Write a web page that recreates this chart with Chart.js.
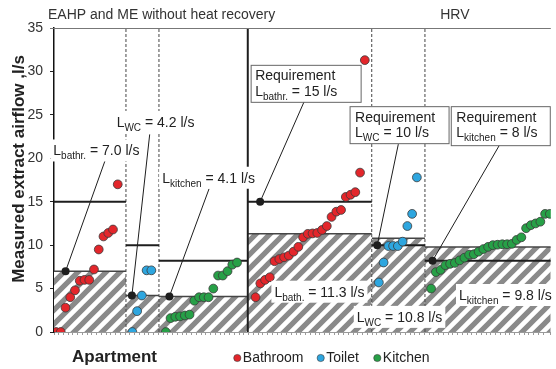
<!DOCTYPE html>
<html>
<head>
<meta charset="utf-8">
<script src="https://cdn.jsdelivr.net/npm/chart.js@4.4.0/dist/chart.umd.min.js"></script>
<style>
  html, body { margin: 0; padding: 0; background: #fff; }
</style>
</head>
<body>
<canvas id="airflowChart" width="556" height="369"></canvas>
<script>
// measured extract airflow (l/s), apartments sorted from lowest to highest
const bathEahp = [0, 0, 2.8, 4.0, 4.8, 5.9, 6.0, 6.0, 7.2, 9.5, 11.0, 11.4, 11.8, 17.0];
const toiletEahp = [0, 2.4, 4.2, 7.1, 7.1];
const kitchenEahp = [0, 1.6, 1.75, 1.8, 1.9, 2.0, 3.6, 4.0, 4.0, 4.0, 5.0, 6.5, 6.5, 7.0, 7.75, 8.0];
const bathHrv = [4.0, 5.6, 6.0, 6.3, 8.15, 8.4, 8.6, 8.8, 9.25, 9.8, 10.9, 11.3, 11.35, 11.4, 11.75,
  12.2, 13.25, 13.85, 14.05, 15.55, 15.8, 16.1, 18.35, 31.3];
const toiletHrv = [5.7, 8.0, 9.9, 9.9, 9.9, 10.4, 12.2, 13.6, 17.8];
const kitchenHrv = [5.0, 6.9, 7.15, 7.7, 7.85, 7.95, 8.25, 8.55, 8.9, 8.95, 9.25, 9.55, 9.8, 10.0, 10.05,
  10.1, 10.1, 10.15, 10.6, 10.9, 11.95, 12.3, 12.5, 12.7, 13.6, 13.6];

// groups in order: bath EAHP, WC EAHP, kitchen EAHP, bath HRV, WC HRV, kitchen HRV
const measuredMean = [7.0, 4.2, 4.1, 11.3, 10.8, 9.8];
const requirement = [15, 10, 8.2, 15, 10, 8.2];
const sectionEdges = [0, 15.15, 22.1, 40.8, 66.9, 78.1, 104.6];
const firstSlot = [0.42, 16.5, 23.54, 42.44, 68.4, 79.4];
const markerSlot = [2.44, 16.4, 24.3, 43.4, 68.06, 79.7];
const markerValue = [7.0, 4.2, 4.1, 15, 10, 8.2];
const yTicks = [0, 5, 10, 15, 20, 25, 30, 35];

const RED = '#e3262b', BLUE = '#2ea6df', GREEN = '#27a047';
const FONT = '"Liberation Sans", Arial, sans-serif';

function toPoints(vals, g) {
  return vals.map((v, i) => ({ x: firstSlot[g] + i, y: v }));
}

// grey diagonal hatch
function makeHatch() {
  const s = 14;
  const tile = document.createElement('canvas');
  tile.width = s; tile.height = s;
  const t = tile.getContext('2d');
  t.fillStyle = '#fff';
  t.fillRect(0, 0, s, s);
  t.strokeStyle = '#8a8a8a';
  t.lineWidth = 5.2;
  t.beginPath();
  t.moveTo(-s, s); t.lineTo(s, -s);
  t.moveTo(0, 2 * s); t.lineTo(2 * s, 0);
  t.moveTo(0, s); t.lineTo(s, 0);
  t.stroke();
  return t.createPattern(tile, 'repeat');
}
const hatch = makeHatch();

const datasets = [];

datasets.push({ type: 'scatter', label: 'Bathroom', order: 0,
  data: toPoints(bathEahp, 0).concat(toPoints(bathHrv, 3)),
  backgroundColor: RED, borderColor: '#3a3a3a', borderWidth: 0.8, pointRadius: 4.4 });
datasets.push({ type: 'scatter', label: 'Toilet', order: 0,
  data: toPoints(toiletEahp, 1).concat(toPoints(toiletHrv, 4)),
  backgroundColor: BLUE, borderColor: '#3a3a3a', borderWidth: 0.8, pointRadius: 4.4 });
datasets.push({ type: 'scatter', label: 'Kitchen', order: 0,
  data: toPoints(kitchenEahp, 2).concat(toPoints(kitchenHrv, 5)),
  backgroundColor: GREEN, borderColor: '#3a3a3a', borderWidth: 0.8, pointRadius: 4.4 });

datasets.push({ type: 'scatter', label: 'markers', order: 1,
  data: markerSlot.map((x, i) => ({ x: x, y: markerValue[i] })),
  backgroundColor: '#1e1e1e', borderColor: '#1e1e1e', borderWidth: 0, pointRadius: 4 });

for (let g = 0; g < 6; g++) {
  const a = sectionEdges[g], b = sectionEdges[g + 1];
  datasets.push({ type: 'line', label: 'req' + g, order: 2,
    data: [{ x: a, y: requirement[g] }, { x: b, y: requirement[g] }],
    borderColor: '#1e1e1e', borderWidth: 2, pointRadius: 0, fill: false });
  datasets.push({ type: 'line', label: 'mean' + g, order: 4,
    data: [{ x: a, y: measuredMean[g] }, { x: b, y: measuredMean[g] }],
    borderColor: '#454545', borderWidth: 1.5, pointRadius: 0,
    fill: 'origin', backgroundColor: hatch });
}

// section dividers
for (let k = 1; k < 6; k++) {
  const solid = k === 3;
  datasets.push({ type: 'line', label: 'div' + k, order: 3,
    data: [{ x: sectionEdges[k], y: 0 }, { x: sectionEdges[k], y: 35 }],
    borderColor: solid ? '#1e1e1e' : '#444', borderWidth: solid ? 2 : 1,
    borderDash: solid ? [] : [3, 2], pointRadius: 0, fill: false });
}

// annotation boxes, placed in data units
const notes = [
  { box: [41.4, 30.76, 110, 37], lines: [[['Requirement']], [['L'], ['bathr.', 1], [' = 15 l/s']]], dx: 4.5, to: [52.65, 26.5], m: 3 },
  { box: [62.23, 26.0, 99, 37], lines: [[['Requirement']], [['L'], ['WC', 1], [' = 10 l/s']]], dx: 5.5, to: [72.5, 21.63], m: 4 },
  { box: [83.54, 26.0, 99, 39], lines: [[['Requirement']], [['L'], ['kitchen', 1], [' = 8 l/s']]], dx: 5.5, to: [93.75, 21.48], m: 5 }
];
const labels = [
  { at: [13.19, 24.18], parts: [['L'], ['WC', 1], [' = 4.2 l/s']], to: [20.15, 22.75], m: 1 },
  { at: [-0.15, 20.9], parts: [['L'], ['bathr.', 1], [' = 7.0 l/s']], to: [10.83, 19.85], m: 0 },
  { at: [22.77, 17.76], parts: [['L'], ['kitchen', 1], [' = 4.1 l/s']], to: [32.65, 16.49], m: 2 },
  { at: [46.4, 4.64], parts: [['L'], ['bath.', 1], [' = 11.3 l/s']] },
  { at: [63.75, 1.74], parts: [['L'], ['WC', 1], [' = 10.8 l/s']] },
  { at: [85.27, 4.26], parts: [['L'], ['kitchen', 1], [' = 9.8 l/s']] }
];

function richWidth(ctx, parts) {
  let w = 0;
  parts.forEach(p => {
    ctx.font = (p[1] ? '10px ' : '14px ') + FONT;
    w += ctx.measureText(p[0]).width;
  });
  return w;
}
function drawRich(ctx, parts, x, y) {
  parts.forEach(p => {
    ctx.font = (p[1] ? '10px ' : '14px ') + FONT;
    ctx.fillText(p[0], x, y + (p[1] ? 4 : 0));
    x += ctx.measureText(p[0]).width;
  });
}

const extras = {
  id: 'extras',
  afterDraw(chart) {
    const ctx = chart.ctx, xs = chart.scales.x, ys = chart.scales.y, area = chart.chartArea;
    ctx.save();
    // top frame line
    ctx.strokeStyle = '#777';
    ctx.lineWidth = 1;
    ctx.beginPath();
    ctx.moveTo(area.left - 4, area.top + 0.5);
    ctx.lineTo(area.right, area.top + 0.5);
    ctx.stroke();

    ctx.fillStyle = '#222';
    ctx.textBaseline = 'alphabetic';
    ctx.textAlign = 'left';

    // connector lines
    const connectors = notes.concat(labels.filter(l => l.to));
    ctx.strokeStyle = '#1e1e1e';
    ctx.lineWidth = 1;
    connectors.forEach(n => {
      ctx.beginPath();
      ctx.moveTo(xs.getPixelForValue(markerSlot[n.m]), ys.getPixelForValue(markerValue[n.m]));
      ctx.lineTo(xs.getPixelForValue(n.to[0]), ys.getPixelForValue(n.to[1]));
      ctx.stroke();
    });

    // plain labels on white
    labels.forEach(l => {
      const x = xs.getPixelForValue(l.at[0]), cy = ys.getPixelForValue(l.at[1]);
      const w = richWidth(ctx, l.parts);
      ctx.fillStyle = '#fff';
      ctx.fillRect(x - 3, cy - 11, w + 6, 22);
      ctx.fillStyle = '#222';
      drawRich(ctx, l.parts, x, cy + 5);
    });

    // requirement boxes
    notes.forEach(n => {
      const x = xs.getPixelForValue(n.box[0]), y = ys.getPixelForValue(n.box[1]);
      ctx.fillStyle = '#fff';
      ctx.fillRect(x, y, n.box[2], n.box[3]);
      ctx.strokeStyle = '#666';
      ctx.strokeRect(x + 0.5, y + 0.5, n.box[2], n.box[3]);
      ctx.fillStyle = '#222';
      drawRich(ctx, n.lines[0], x + n.dx, y + 15.5);
      drawRich(ctx, n.lines[1], x + n.dx, y + 31);
    });

    // section titles
    ctx.fillStyle = '#333';
    ctx.font = '14px ' + FONT;
    ctx.textBaseline = 'middle';
    ctx.fillText('EAHP and ME without heat recovery', area.left - 6, 15);
    ctx.textAlign = 'center';
    ctx.fillText('HRV', xs.getPixelForValue(84.4), 15);

    // y axis title
    ctx.save();
    ctx.translate(19, 169);
    ctx.rotate(-Math.PI / 2);
    ctx.font = 'bold 17px ' + FONT;
    ctx.fillStyle = '#222';
    ctx.fillText('Measured extract airflow ,l/s', 0, 0);
    ctx.restore();

    // x axis title and legend
    ctx.textAlign = 'left';
    ctx.font = 'bold 17px ' + FONT;
    ctx.fillStyle = '#222';
    ctx.fillText('Apartment', 72, 357);
    const legend = [['Bathroom', RED, 237.3], ['Toilet', BLUE, 320.7], ['Kitchen', GREEN, 377.3]];
    ctx.font = '14px ' + FONT;
    legend.forEach(item => {
      ctx.beginPath();
      ctx.arc(item[2], 358, 3.6, 0, Math.PI * 2);
      ctx.fillStyle = item[1];
      ctx.fill();
      ctx.strokeStyle = '#3a3a3a';
      ctx.lineWidth = 0.6;
      ctx.stroke();
      ctx.fillStyle = '#222';
      ctx.fillText(item[0], item[2] + 5.5, 358.5);
    });
    ctx.restore();
  }
};

new Chart(document.getElementById('airflowChart').getContext('2d'), {
  type: 'line',
  data: { datasets: datasets },
  options: {
    responsive: false,
    animation: false,
    layout: { padding: { top: 28, right: 0, bottom: 34, left: 0 } },
    plugins: {
      legend: { display: false },
      tooltip: { enabled: false }
    },
    scales: {
      x: {
        type: 'linear',
        min: sectionEdges[0],
        max: sectionEdges[6],
        ticks: { display: false, stepSize: 1, maxTicksLimit: 200, autoSkip: false },
        grid: { drawOnChartArea: false, tickLength: 3, color: '#9a9a9a' },
        border: { color: '#9a9a9a' }
      },
      y: {
        min: 0,
        max: 35,
        afterBuildTicks: scale => { scale.ticks = yTicks.map(v => ({ value: v })); },
        afterFit: scale => { scale.width = 54; },
        ticks: { color: '#333', padding: 7, font: { family: FONT, size: 14 } },
        grid: { drawOnChartArea: false, tickLength: 4, color: '#222' },
        border: { color: '#111', width: 1.5 }
      }
    }
  },
  plugins: [extras]
});
</script>
</body>
</html>
